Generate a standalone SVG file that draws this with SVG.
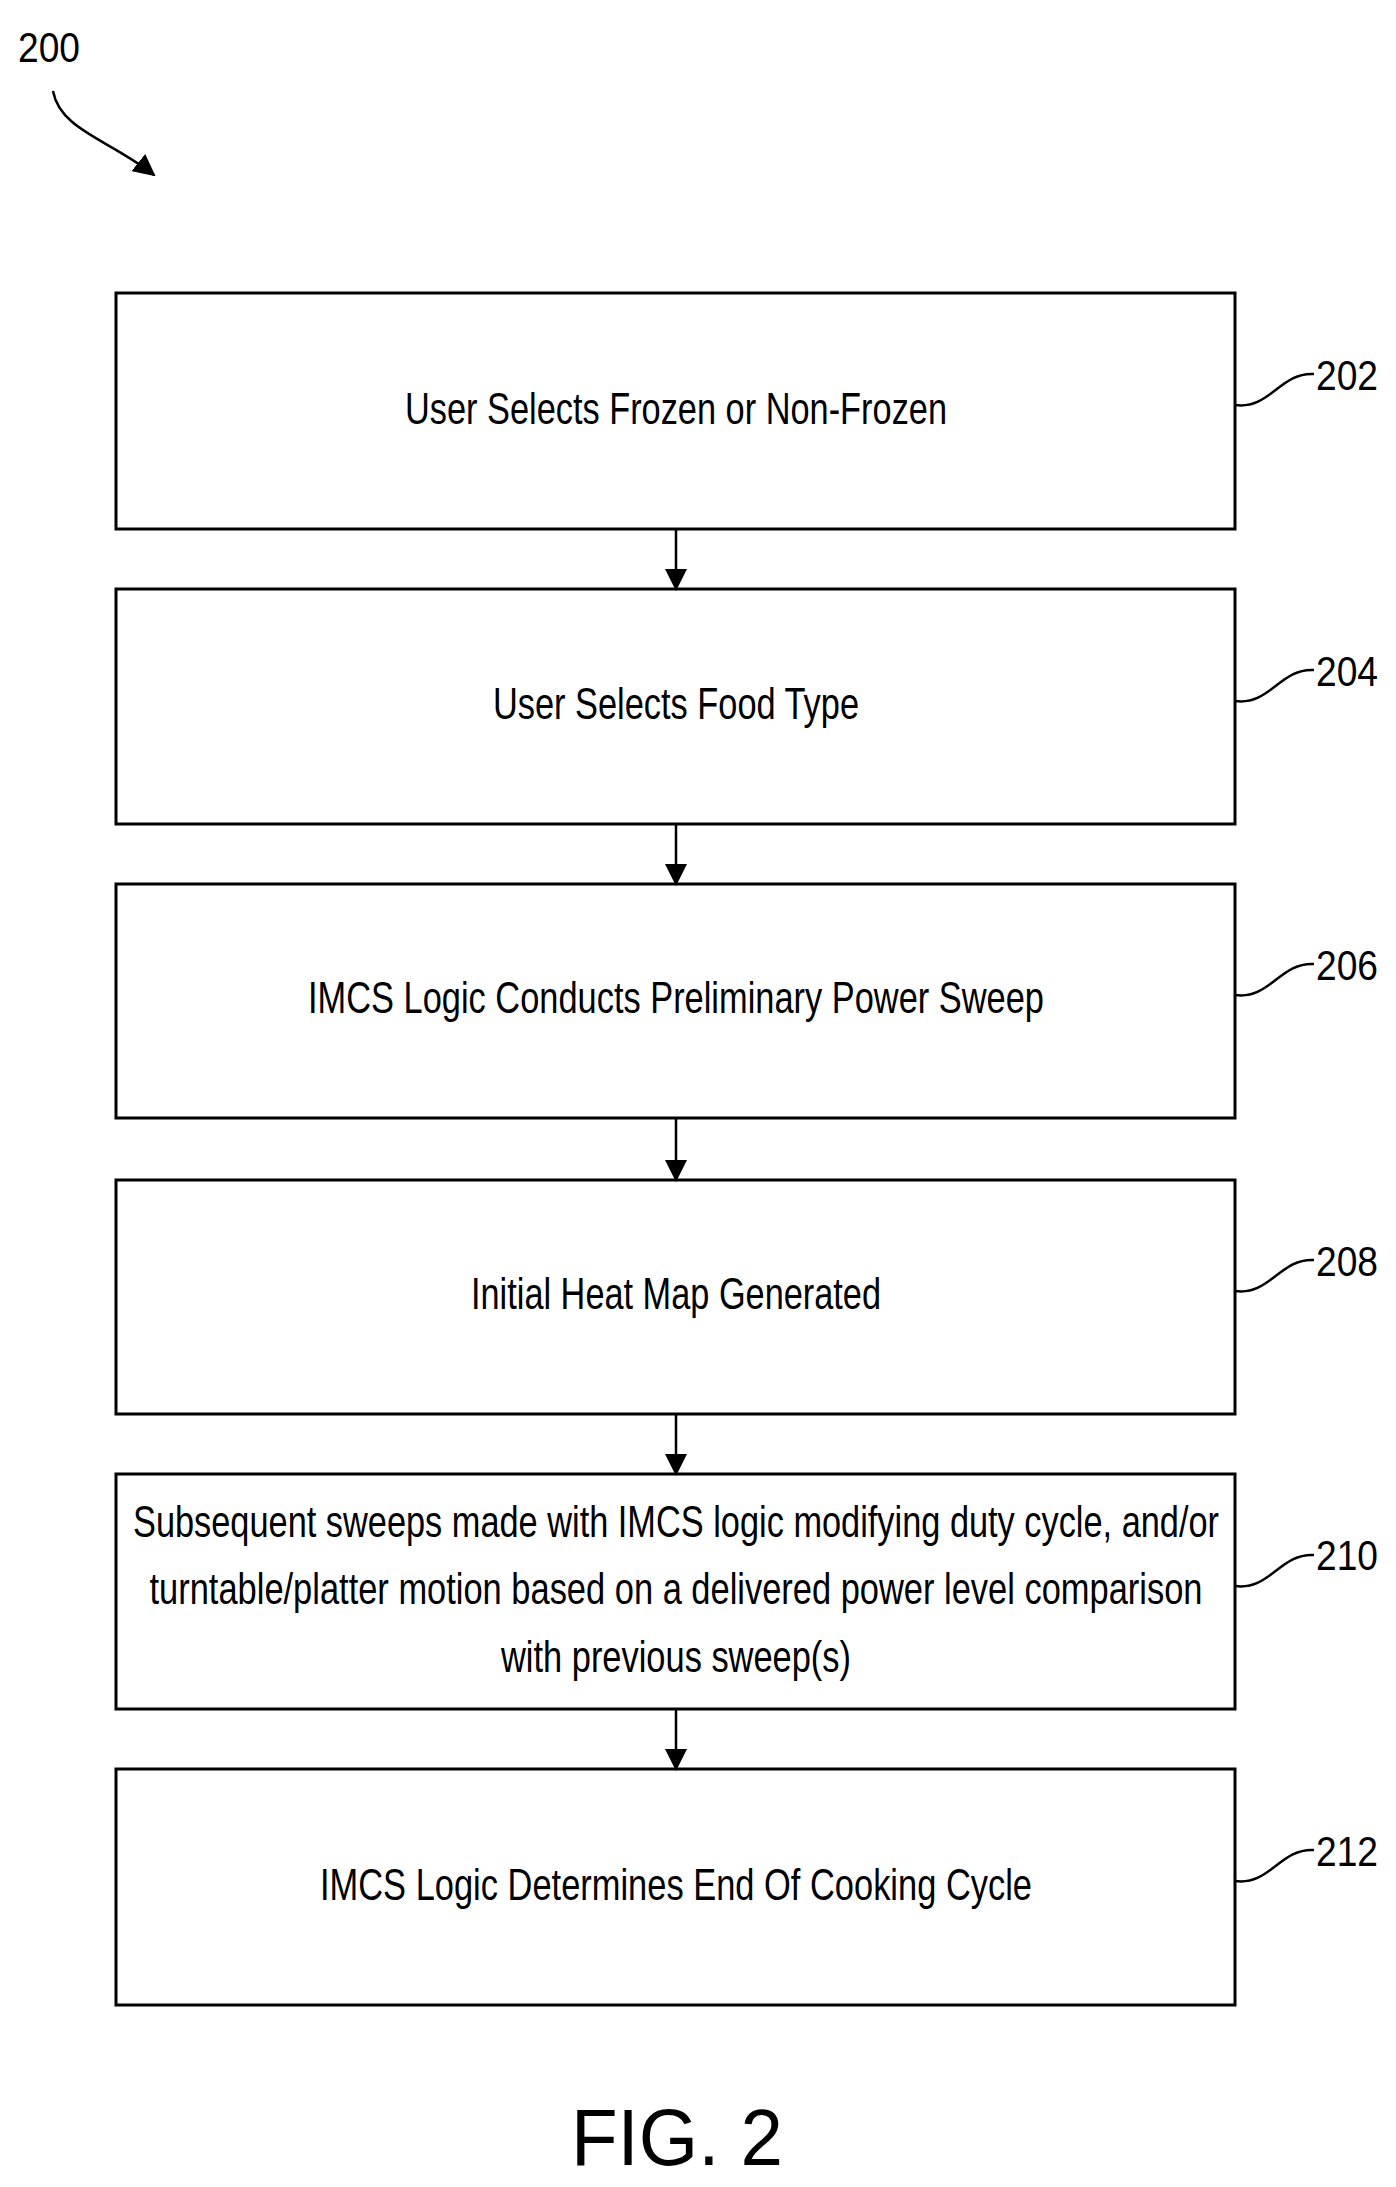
<svg xmlns="http://www.w3.org/2000/svg" width="1396" height="2187" viewBox="0 0 1396 2187">
<style>
.b{fill:#fff;stroke:#000;stroke-width:3}
.t{font-family:"Liberation Sans",Arial,sans-serif;font-size:44px;text-anchor:middle;fill:#000}
.r{font-family:"Liberation Sans",Arial,sans-serif;font-size:42px;fill:#000}
.l{fill:none;stroke:#000;stroke-width:2.5}
</style>
<defs><marker id="a" markerWidth="10" markerHeight="10" refX="9" refY="5" orient="auto" markerUnits="userSpaceOnUse" viewBox="0 0 10 10"><path d="M0,0L10,5L0,10z" fill="#000"/></marker>
<marker id="b" markerWidth="22" markerHeight="22" refX="20" refY="11" orient="auto" markerUnits="userSpaceOnUse" viewBox="0 0 22 22"><path d="M0,0L22,11L0,22z" fill="#000"/></marker></defs>
<rect width="1396" height="2187" fill="#fff"/>
<text class="r" x="18" y="62" textLength="62" lengthAdjust="spacingAndGlyphs">200</text>
<g id="n202"><rect class="b" x="116" y="293" width="1119" height="236"/><text class="t" x="676" y="424" textLength="542" lengthAdjust="spacingAndGlyphs">User Selects Frozen or Non-Frozen</text><text class="r" x="1316" y="390" textLength="62" lengthAdjust="spacingAndGlyphs">202</text></g>
<g id="n204"><rect class="b" x="116" y="589" width="1119" height="235"/><text class="t" x="676" y="719" textLength="366" lengthAdjust="spacingAndGlyphs">User Selects Food Type</text><text class="r" x="1316" y="686" textLength="62" lengthAdjust="spacingAndGlyphs">204</text></g>
<g id="n206"><rect class="b" x="116" y="884" width="1119" height="234"/><text class="t" x="676" y="1013" textLength="736" lengthAdjust="spacingAndGlyphs">IMCS Logic Conducts Preliminary Power Sweep</text><text class="r" x="1316" y="980" textLength="62" lengthAdjust="spacingAndGlyphs">206</text></g>
<g id="n208"><rect class="b" x="116" y="1180" width="1119" height="234"/><text class="t" x="676" y="1309" textLength="410" lengthAdjust="spacingAndGlyphs">Initial Heat Map Generated</text><text class="r" x="1316" y="1276" textLength="62" lengthAdjust="spacingAndGlyphs">208</text></g>
<g id="n210"><rect class="b" x="116" y="1474" width="1119" height="235"/>
<text class="t" x="676" y="1537" textLength="1086" lengthAdjust="spacingAndGlyphs">Subsequent sweeps made with IMCS logic modifying duty cycle, and/or</text>
<text class="t" x="676" y="1604" textLength="1053" lengthAdjust="spacingAndGlyphs">turntable/platter motion based on a delivered power level comparison</text>
<text class="t" x="676" y="1672" textLength="350" lengthAdjust="spacingAndGlyphs">with previous sweep(s)</text>
<text class="r" x="1316" y="1570" textLength="62" lengthAdjust="spacingAndGlyphs">210</text></g>
<g id="n212"><rect class="b" x="116" y="1769" width="1119" height="236"/><text class="t" x="676" y="1900" textLength="712" lengthAdjust="spacingAndGlyphs">IMCS Logic Determines End Of Cooking Cycle</text><text class="r" x="1316" y="1866" textLength="62" lengthAdjust="spacingAndGlyphs">212</text></g>
<text class="t" x="677" y="2165" style="font-size:80px" textLength="212" lengthAdjust="spacingAndGlyphs">FIG. 2</text>
<g id="connectors">
<path class="l" d="M53,91 C60,130 110,140 154,175" marker-end="url(#b)"/>
<path class="l" d="M676,529V589" marker-end="url(#b)"/>
<path class="l" d="M676,824V884" marker-end="url(#b)"/>
<path class="l" d="M676,1118V1180" marker-end="url(#b)"/>
<path class="l" d="M676,1414V1474" marker-end="url(#b)"/>
<path class="l" d="M676,1709V1769" marker-end="url(#b)"/>
<path class="l" d="M1235,405 C1270,410 1280,372 1314,374"/>
<path class="l" d="M1235,701 C1270,706 1280,668 1314,670"/>
<path class="l" d="M1235,995 C1270,1000 1280,962 1314,964"/>
<path class="l" d="M1235,1291 C1270,1296 1280,1258 1314,1260"/>
<path class="l" d="M1235,1586 C1270,1591 1280,1553 1314,1555"/>
<path class="l" d="M1235,1881 C1270,1886 1280,1848 1314,1850"/>
</g>
</svg>
